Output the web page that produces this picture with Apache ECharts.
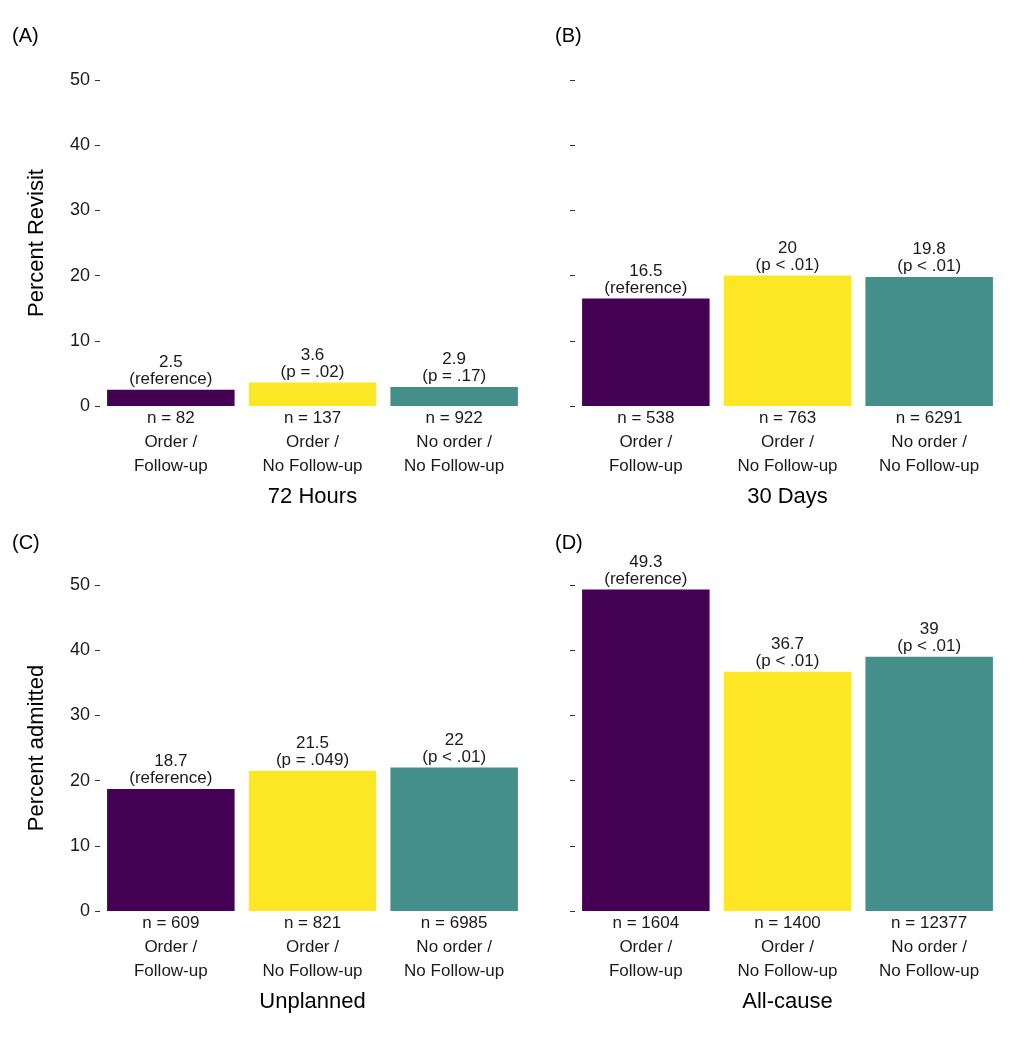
<!DOCTYPE html>
<html><head><meta charset="utf-8">
<script src="https://cdn.jsdelivr.net/npm/echarts@6/dist/echarts.min.js"></script>
<style>body{margin:0;background:#fff}#c{width:1012px;height:1040px}</style>
</head><body><div id="c"></div>
<script>
// groups shared by all panels
var groups = ['Order /\nFollow-up', 'Order /\nNo Follow-up', 'No order /\nNo Follow-up'];
var colors = ['#440154', '#FDE725', '#458f8a'];

// panel data
var panelNames = ['72 Hours', '30 Days', 'Unplanned', 'All-cause'];
var panelTags = ['(A)', '(B)', '(C)', '(D)'];
var values = [
  [2.5, 3.6, 2.9],
  [16.5, 20, 19.8],
  [18.7, 21.5, 22],
  [49.3, 36.7, 39]
];
var pLabels = [
  ['(reference)', '(p = .02)', '(p = .17)'],
  ['(reference)', '(p < .01)', '(p < .01)'],
  ['(reference)', '(p = .049)', '(p < .01)'],
  ['(reference)', '(p < .01)', '(p < .01)']
];
var counts = [
  [82, 137, 922],
  [538, 763, 6291],
  [609, 821, 6985],
  [1604, 1400, 12377]
];
var yTitles = ['Percent Revisit', '', 'Percent admitted', ''];

var lefts = [100, 575, 100, 575];
var tops = [80, 80, 585, 585];
var txt = '#1a1a1a';
var font = 'Liberation Sans, Arial, sans-serif';

var grids = [], xAxes = [], yAxes = [], series = [], graphics = [];
for (var i = 0; i < 4; i++) {
  grids.push({left: lefts[i], top: tops[i], width: 425, height: 326});
  (function(i) {
    xAxes.push({
      type: 'category', gridIndex: i,
      data: groups.map(function(g, k) { return {value: 'n = ' + counts[i][k] + '\n' + g}; }),
      axisLine: {show: false}, axisTick: {show: false},
      axisLabel: {color: txt, fontSize: 17, fontFamily: font, lineHeight: 24, margin: 0, interval: 0},
      name: panelNames[i], nameLocation: 'middle', nameGap: 80,
      nameTextStyle: {color: '#000', fontSize: 22, fontFamily: font}
    });
    yAxes.push({
      type: 'value', gridIndex: i, min: 0, max: 50, interval: 10,
      splitLine: {show: false}, axisLine: {show: false},
      axisTick: {show: true, length: 5, lineStyle: {color: '#333'}},
      axisLabel: {show: i % 2 === 0, color: txt, fontSize: 18, fontFamily: font, margin: 10},
      name: yTitles[i], nameLocation: 'middle', nameGap: 52,
      nameTextStyle: {color: '#000', fontSize: 22, fontFamily: font}
    });
    series.push({
      type: 'bar', xAxisIndex: i, yAxisIndex: i, barWidth: '90%',
      data: values[i].map(function(v, k) { return {value: v, itemStyle: {color: colors[k]}}; }),
      label: {show: true, position: 'top', distance: 2, color: txt, fontSize: 17, fontFamily: font, lineHeight: 17,
        formatter: function(p) { return p.value + '\n' + pLabels[i][p.dataIndex]; }}
    });
    graphics.push({type: 'text', left: i % 2 === 0 ? 12 : 555, top: i < 2 ? 26 : 533,
      style: {text: panelTags[i], fontSize: 20, fill: '#000', fontFamily: font}});
  })(i);
}

var chart = echarts.init(document.getElementById('c'));
chart.setOption({
  backgroundColor: '#fff', animation: false,
  grid: grids, xAxis: xAxes, yAxis: yAxes, series: series, graphic: graphics
});
</script></body></html>
